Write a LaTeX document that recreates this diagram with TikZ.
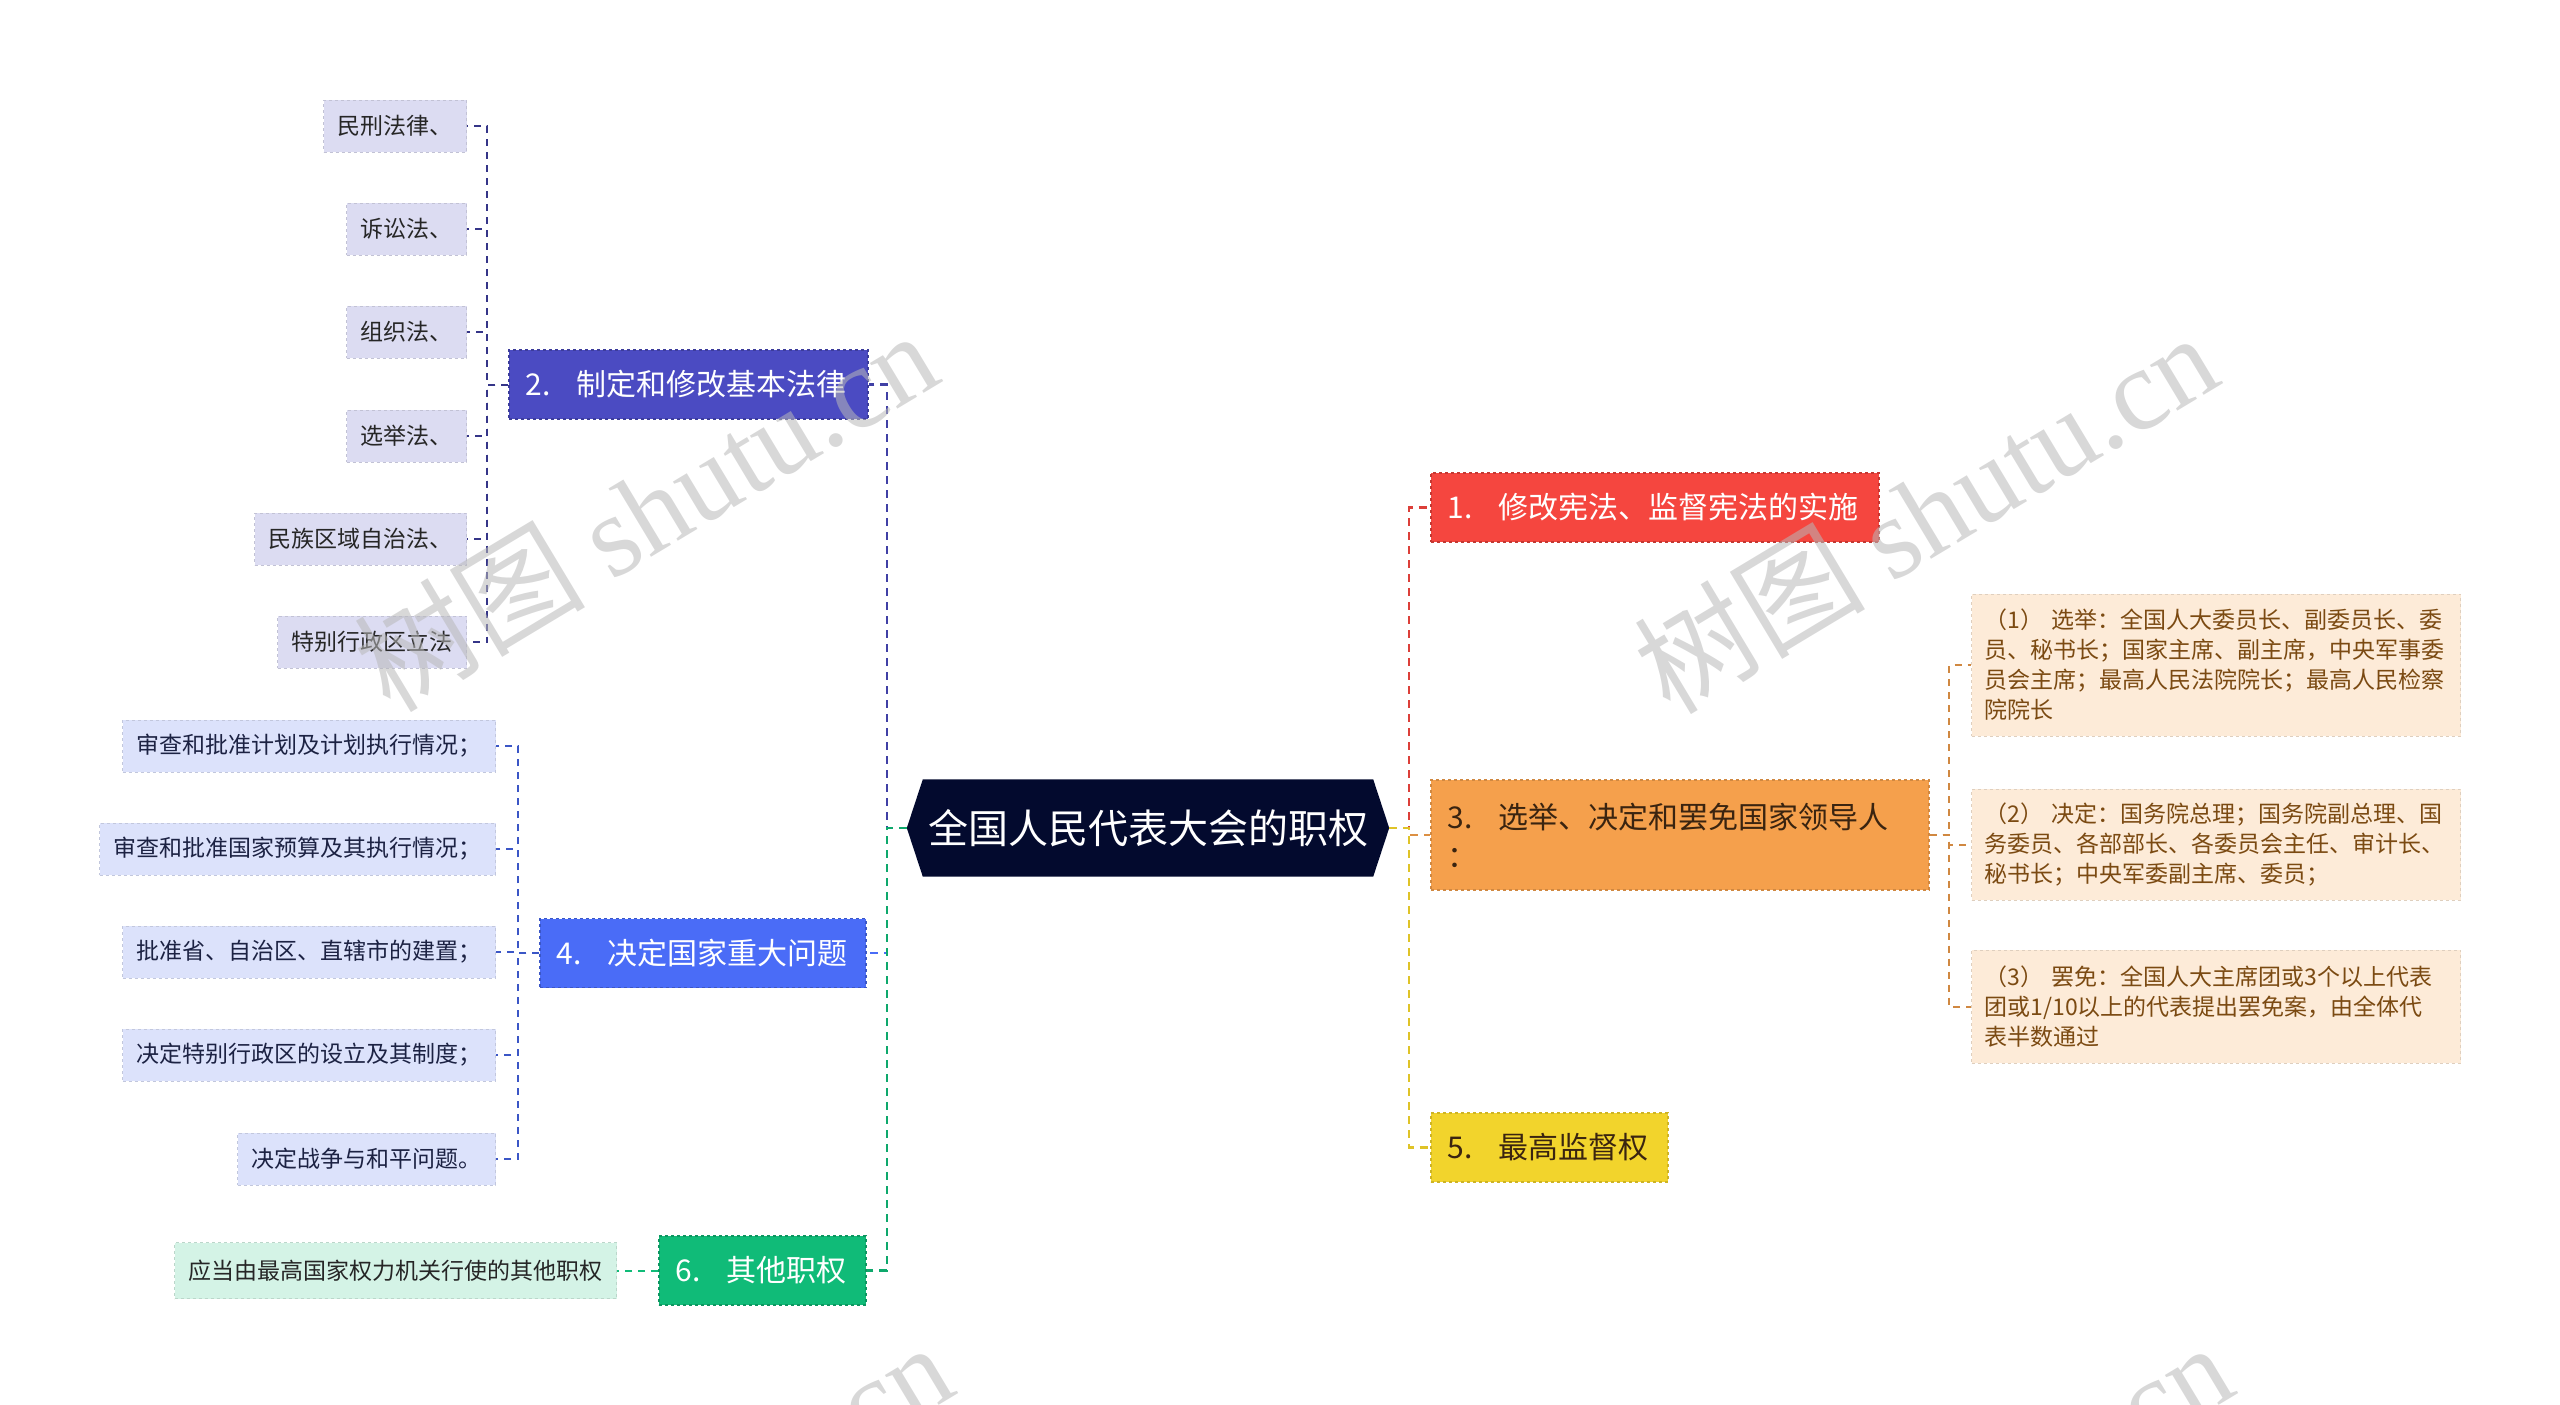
\documentclass[tikz,border=0pt]{standalone}
\usepackage{fontspec}
\setmainfont{Noto Sans CJK SC}
\newfontfamily\wmserif{Liberation Serif}
\usetikzlibrary{backgrounds}

\definecolor{rootnavy}{HTML}{030A2E}
\definecolor{redone}{HTML}{F5463F}
\definecolor{orangeone}{HTML}{F5A04C}
\definecolor{yellowone}{HTML}{F2D42C}
\definecolor{peachleaf}{HTML}{FDEBD8}
\definecolor{purpleone}{HTML}{4B4BC2}
\definecolor{blueone}{HTML}{4A6CF7}
\definecolor{greenone}{HTML}{10BB78}
\definecolor{lavleaf}{HTML}{DCDCF2}
\definecolor{blueleaf}{HTML}{DCE2FB}
\definecolor{mintleaf}{HTML}{D4F3E6}
\definecolor{browntxt}{HTML}{7B4A12}
\definecolor{darktxt}{HTML}{3A2410}

\tikzset{
  mainbox/.style={dashed, line width=1.5pt, inner xsep=17pt, inner ysep=0pt,
    minimum height=69pt, anchor=west, align=left, font=\fontsize{30}{39}\selectfont},
  leafbox/.style={dashed, line width=1pt, inner xsep=14pt, inner ysep=0pt,
    minimum height=52pt, anchor=east, font=\fontsize{23}{30}\selectfont},
  noteleaf/.style={fill=peachleaf, draw=peachleaf!88!black, dashed, line width=1pt,
    anchor=west, inner xsep=13pt, inner ysep=0pt, align=left, text width=463pt,
    text=browntxt, font=\fontsize{23}{30}\selectfont},
  link/.style={dash pattern=on 8pt off 6pt, line width=2.5pt},
  twig/.style={dash pattern=on 7pt off 6pt, line width=2pt}
}
\newcommand{\numgap}{\kern26pt}

\begin{document}
\begin{tikzpicture}[x=1pt, y=-1pt]
  \useasboundingbox (0,0) rectangle (2560,1405);

  % root
  \node[minimum width=450pt, minimum height=97pt, inner sep=0pt, text=white,
    font=\fontsize{40}{48}\selectfont] (root) at (1148,828) {全国人民代表大会的职权};
  \coordinate (tipL) at ([xshift=-16pt]root.west);
  \coordinate (tipR) at ([xshift=16pt]root.east);
  \begin{scope}[on background layer]
    \fill[rootnavy] (root.north west) -- (root.north east) -- (tipR)
      -- (root.south east) -- (root.south west) -- (tipL) -- cycle;
  \end{scope}
  \coordinate (lbus) at (887,828);
  \coordinate (rbus) at (1409,828);

  % right branches
  \node[mainbox, fill=redone, draw=redone!80!black, text=white, text width=414pt]
    (p1) at (1430,507.5) {1.\numgap 修改宪法、监督宪法的实施};
  \node[mainbox, fill=orangeone, draw=orangeone!85!black, text=darktxt, text width=464pt,
    minimum height=110pt] (p3) at (1430,835) {3.\numgap 选举、决定和罢免国家领导人\\：};
  \node[mainbox, fill=yellowone, draw=yellowone!85!black, text=darktxt, text width=203pt]
    (p5) at (1430,1147.5) {5.\numgap 最高监督权};

  \node[noteleaf, minimum height=142pt] (r1) at (1971,665)
    {（1）\hspace{8pt}选举：全国人大委员长、副委员长、委\\员、秘书长；国家主席、副主席，中央军事委\\员会主席；最高人民法院院长；最高人民检察\\院院长};
  \node[noteleaf, minimum height=111pt] (r2) at (1971,844.5)
    {（2）\hspace{8pt}决定：国务院总理；国务院副总理、国\\务委员、各部部长、各委员会主任、审计长、\\秘书长；中央军委副主席、委员；};
  \node[noteleaf, minimum height=113pt] (r3) at (1971,1006.5)
    {（3）\hspace{8pt}罢免：全国人大主席团或3个以上代表\\团或1/10以上的代表提出罢免案，由全体代\\表半数通过};
  \coordinate (bus3) at (1949,835);

  % left branches
  \node[mainbox, fill=purpleone, draw=purpleone!80!black, text=white, text width=325pt]
    (p2) at (508,384.5) {2.\numgap 制定和修改基本法律};
  \node[mainbox, fill=blueone, draw=blueone!80!black, text=white, text width=292pt]
    (p4) at (539,953) {4.\numgap 决定国家重大问题};
  \node[mainbox, fill=greenone, draw=greenone!80!black, text=white, text width=173pt]
    (p6) at (658,1270.5) {6.\numgap 其他职权};

  \foreach \txt/\ly [count=\k] in {民刑法律、/126, 诉讼法、/229, 组织法、/332,
      选举法、/436, 民族区域自治法、/539, 特别行政区立法/642}
    \node[leafbox, fill=lavleaf, draw=lavleaf!88!black, text=black!85] (l2\k) at (467,\ly) {\txt};
  \coordinate (bus2) at (487,384.5);

  \foreach \txt/\ly [count=\k] in {审查和批准计划及计划执行情况；/746, 审查和批准国家预算及其执行情况；/849,
      批准省、自治区、直辖市的建置；/952, 决定特别行政区的设立及其制度；/1055, 决定战争与和平问题。/1159}
    \node[leafbox, fill=blueleaf, draw=blueleaf!88!black, text=rootnavy!90] (l4\k) at (496,\ly) {\txt};
  \coordinate (bus4) at (518,953);

  \node[leafbox, fill=mintleaf, draw=mintleaf!88!black, text=black!85, minimum height=56pt]
    (l61) at (617,1270.5) {应当由最高国家权力机关行使的其他职权};

  % connectors
  \draw[link, color=purpleone!85!black] (tipL) -- (lbus) |- (p2.east);
  \draw[link, color=blueone] (tipL) -- (lbus) |- (p4.east);
  \draw[link, color=greenone!90!black] (tipL) -- (lbus) |- (p6.east);
  \draw[link, color=redone!90!black] (tipR) -- (rbus) |- (p1.west);
  \draw[link, color=orangeone!90!black] (tipR) -- (rbus) |- (p3.west);
  \draw[link, color=yellowone!92!black] (tipR) -- (rbus) |- (p5.west);

  \foreach \k in {1,...,6}
    \draw[twig, color=purpleone!70!black] (p2.west) -- (bus2) |- (l2\k.east);
  \foreach \k in {1,...,5}
    \draw[twig, color=blueone!80!black] (p4.west) -- (bus4) |- (l4\k.east);
  \draw[twig, color=greenone] (p6.west) -- (l61.east);
  \foreach \k in {1,2,3}
    \draw[twig, color=orangeone!85!black] (p3.east) -- (bus3) |- (r\k.west);

  % watermark
  \begin{scope}
    \clip (0,0) rectangle (2560,1405);
    \foreach \wx/\wy [count=\k] in {645/510, 1925/512, 660/1522, 1940/1522}
      \node[rotate=31, text=black!28, opacity=0.55, font=\fontsize{116}{116}\selectfont]
        (wm\k) at (\wx,\wy) {树图 {\wmserif shutu.cn}};
  \end{scope}
\end{tikzpicture}
\end{document}
